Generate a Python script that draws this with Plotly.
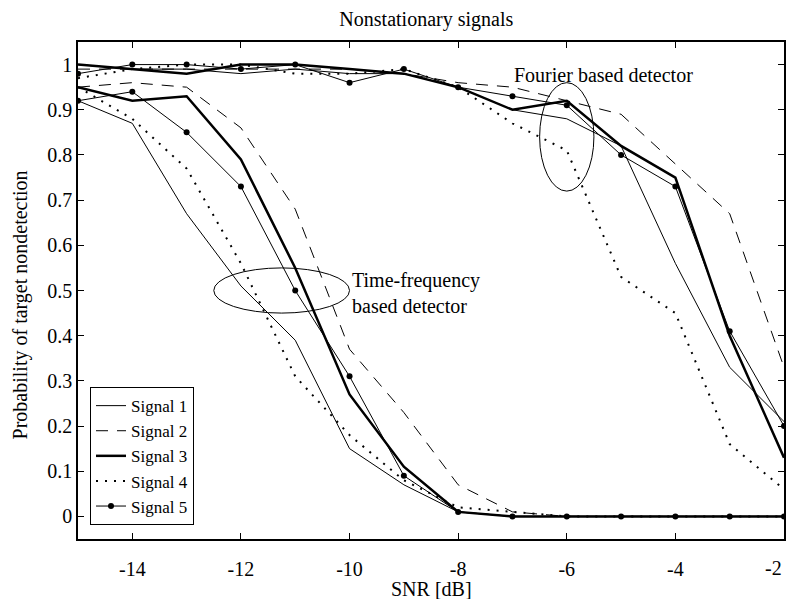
import plotly.graph_objects as go

snr = [-15, -14, -13, -12, -11, -10, -9, -8, -7, -6, -5, -4, -3, -2]
x_ticks = [-14, -12, -10, -8, -6, -4, -2]
x_ticklabels = ["-14", "-12", "-10", "-8", "-6", "-4", "-2"]
y_ticks = [0, 0.1, 0.2, 0.3, 0.4, 0.5, 0.6, 0.7, 0.8, 0.9, 1]
y_ticklabels = ["0", "0.1", "0.2", "0.3", "0.4", "0.5", "0.6", "0.7", "0.8", "0.9", "1"]

# Time-frequency based detector
s1_tf = [0.92, 0.87, 0.67, 0.51, 0.39, 0.15, 0.07, 0.01, 0, 0, 0, 0, 0, 0]
s2_tf = [0.95, 0.96, 0.95, 0.86, 0.68, 0.37, 0.23, 0.07, 0.01, 0, 0, 0, 0, 0]
s3_tf = [0.95, 0.92, 0.93, 0.79, 0.55, 0.27, 0.11, 0.01, 0, 0, 0, 0, 0, 0]
s4_tf = [0.95, 0.88, 0.77, 0.56, 0.31, 0.18, 0.08, 0.02, 0.01, 0, 0, 0, 0, 0]
s5_tf = [0.92, 0.94, 0.85, 0.73, 0.50, 0.31, 0.09, 0.01, 0, 0, 0, 0, 0, 0]

# Fourier based detector
s1_f = [1.0, 0.99, 0.99, 0.98, 0.99, 0.98, 0.98, 0.95, 0.90, 0.88, 0.82, 0.56, 0.33, 0.21]
s2_f = [0.99, 0.99, 0.99, 0.99, 0.99, 0.99, 0.98, 0.96, 0.95, 0.92, 0.89, 0.78, 0.67, 0.33]
s3_f = [1.0, 0.99, 0.98, 1.0, 1.0, 0.99, 0.98, 0.95, 0.90, 0.92, 0.82, 0.75, 0.40, 0.13]
s4_f = [0.97, 0.99, 1.0, 1.0, 0.98, 0.98, 0.99, 0.95, 0.87, 0.81, 0.53, 0.45, 0.16, 0.06]
s5_f = [0.98, 1.0, 1.0, 0.99, 1.0, 0.96, 0.99, 0.95, 0.93, 0.91, 0.80, 0.73, 0.41, 0.20]

names = ["Signal 1", "Signal 2", "Signal 3", "Signal 4", "Signal 5"]
tf_series = [s1_tf, s2_tf, s3_tf, s4_tf, s5_tf]
f_series = [s1_f, s2_f, s3_f, s4_f, s5_f]

FONT = "Liberation Serif"
FS = 20
styles = [
    dict(line=dict(color="black", width=1), mode="lines"),
    dict(line=dict(color="black", width=1, dash="12px,9px"), mode="lines"),
    dict(line=dict(color="black", width=2.5), mode="lines"),
    dict(line=dict(color="black", width=2, dash="2px,7px"), mode="lines"),
    dict(line=dict(color="black", width=1), mode="lines+markers",
         marker=dict(symbol="circle", size=6, color="black")),
]

fig = go.Figure()
for name, tf, fo, st in zip(names, tf_series, f_series, styles):
    fig.add_trace(go.Scatter(x=snr, y=tf, name=name, legendgroup=name,
                             showlegend=True, **st))
    fig.add_trace(go.Scatter(x=snr, y=fo, name=name, legendgroup=name,
                             showlegend=False, **st))

# ellipses
fig.add_shape(type="circle", xref="x", yref="y", x0=-6.5, x1=-5.5, y0=0.72, y1=0.96,
              line=dict(color="black", width=1))
fig.add_shape(type="circle", xref="x", yref="y", x0=-12.5, x1=-10.0, y0=0.45, y1=0.55,
              line=dict(color="black", width=1))

fig.add_annotation(x=-7.0, y=0.976, xref="x", yref="y", text="Fourier based detector",
                   showarrow=False, xanchor="left", yanchor="middle",
                   font=dict(family=FONT, size=FS, color="black"))
fig.add_annotation(x=-10.0, y=0.495, xref="x", yref="y", text="Time-frequency<br>based detector",
                   showarrow=False, xanchor="left", yanchor="middle", align="left",
                   font=dict(family=FONT, size=FS, color="black"))

# y-axis title
fig.add_annotation(x=0, xref="paper", xshift=-58, y=0.47, yref="paper",
                   text="Probability of target nondetection", textangle=-90,
                   showarrow=False, xanchor="center", yanchor="middle",
                   font=dict(family=FONT, size=FS, color="black"))

# x-axis title
fig.add_annotation(x=0.5, xref="paper", y=0, yref="paper", yshift=-50,
                   text="SNR [dB]", showarrow=False, xanchor="center", yanchor="middle",
                   font=dict(family=FONT, size=FS, color="black"))

# last x tick label sits at the right edge: right-align it so it stays inside
shown_labels = x_ticklabels[:-1] + [""]
fig.add_annotation(x=x_ticks[-1], xref="x", y=0, yref="paper", yshift=-29,
                   text=x_ticklabels[-1], showarrow=False, xanchor="right", yanchor="middle",
                   font=dict(family=FONT, size=FS, color="black"))

axis_common = dict(showline=True, linecolor="black", linewidth=1.5, mirror="ticks",
                   ticks="inside", ticklen=6, tickcolor="black", tickwidth=1,
                   showgrid=False, zeroline=False,
                   tickfont=dict(family=FONT, size=FS, color="black"))

fig.update_xaxes(range=[-15, -2], tickvals=x_ticks, ticktext=shown_labels,
                 ticklabelstandoff=11, **axis_common)
fig.update_yaxes(range=[-0.05, 1.05], tickvals=y_ticks, ticktext=y_ticklabels,
                 **axis_common)

fig.update_layout(
    width=788, height=599,
    margin=dict(l=78, r=2, t=42, b=60),
    paper_bgcolor="white", plot_bgcolor="white",
    title=dict(text="Nonstationary signals", x=0.541, xanchor="center", y=0.968, yanchor="middle",
               font=dict(family=FONT, size=FS, color="black")),
    font=dict(family=FONT, color="black"),
    showlegend=True,
    legend=dict(x=0.017, y=0.028, xanchor="left", yanchor="bottom",
                bgcolor="white", bordercolor="black", borderwidth=1,
                font=dict(family=FONT, size=17, color="black"),
                tracegroupgap=0, itemwidth=30),
)

fig.write_html("out.html", config={"displayModeBar": False},
               post_script="document.body.style.margin='0';document.body.style.overflow='hidden';")
